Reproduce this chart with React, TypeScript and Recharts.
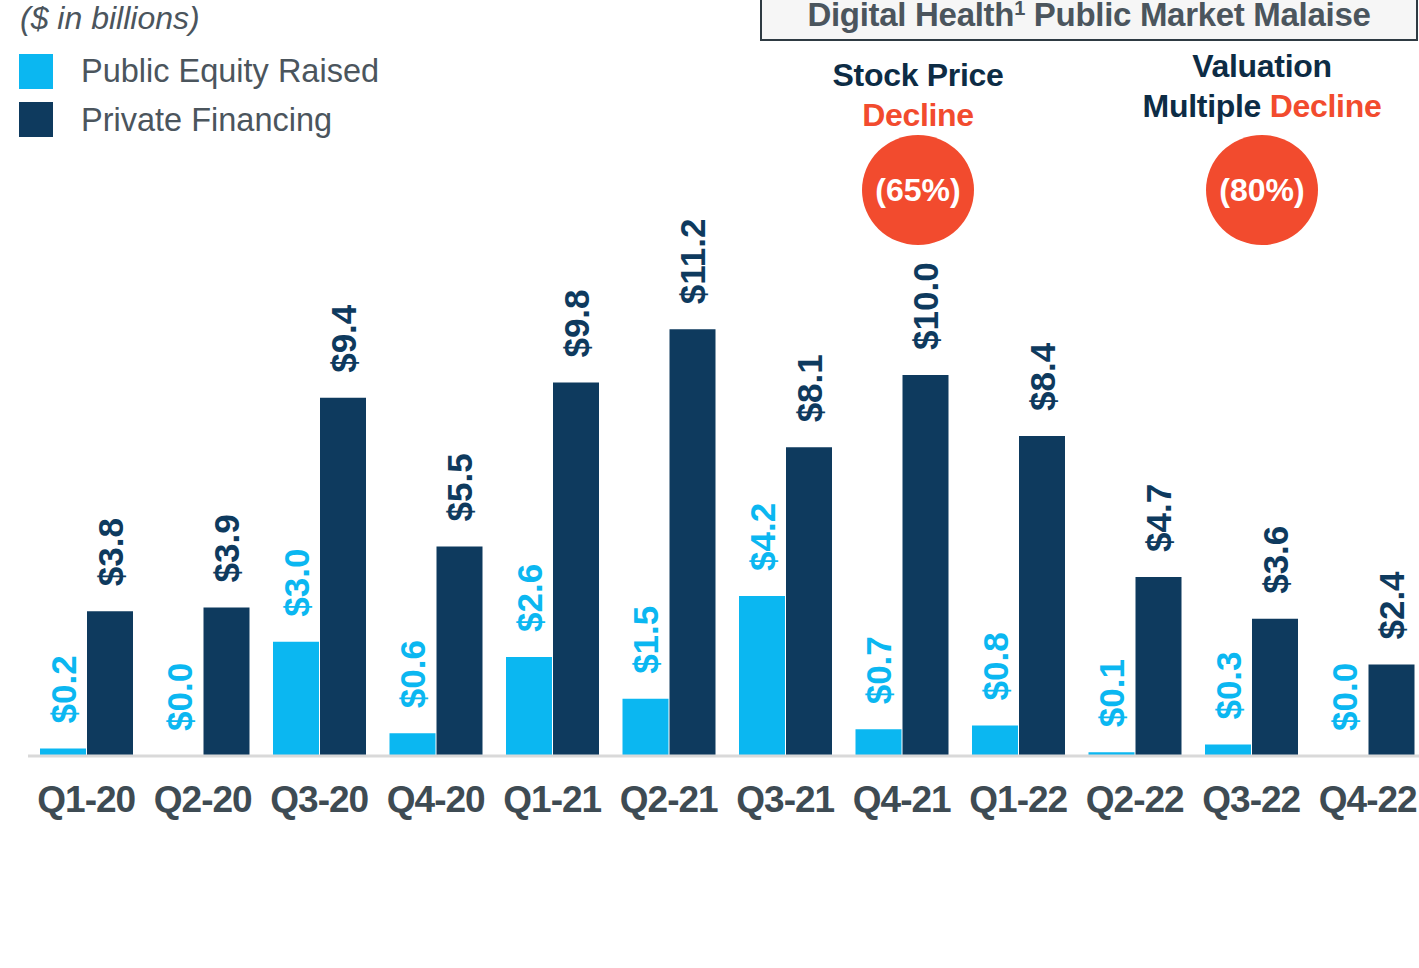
import { Bar, BarChart, LabelList, XAxis, YAxis } from "recharts";

const quarters = [
  "Q1-20", "Q2-20", "Q3-20", "Q4-20", "Q1-21", "Q2-21",
  "Q3-21", "Q4-21", "Q1-22", "Q2-22", "Q3-22", "Q4-22",
];
const publicEquity = [0.2, 0.0, 3.0, 0.6, 2.6, 1.5, 4.2, 0.7, 0.8, 0.1, 0.3, 0.0];
const privateFinancing = [3.8, 3.9, 9.4, 5.5, 9.8, 11.2, 8.1, 10.0, 8.4, 4.7, 3.6, 2.4];

const LIGHT = "#0BB7F1";
const NAVY = "#0E3A5E";
const AXIS_TEXT = "#3E4B53";
const GREY_TEXT = "#4B555D";
const RED = "#F24B2E";
const FONT = "'Liberation Sans', Arial, sans-serif";

const data = quarters.map((q, i) => ({
  quarter: q,
  publicEquity: publicEquity[i],
  privateFinancing: privateFinancing[i],
}));

function makeLabel(color: string) {
  return (props: any) => {
    const { x, y, width, value } = props;
    const cx = Number(x) + Number(width) / 2;
    const ty = Number(y) - 25;
    return (
      <text
        x={cx}
        y={ty}
        dy="0.36em"
        transform={`rotate(-90 ${cx} ${ty})`}
        textAnchor="start"
        fill={color}
        fontFamily={FONT}
        fontWeight={700}
        fontSize={35}
      >
        {`$${Number(value).toFixed(1)}`}
      </text>
    );
  };
}

function QuarterTick(props: any) {
  const { x, y, payload } = props;
  return (
    <text
      x={x}
      y={y}
      dy={56}
      textAnchor="middle"
      fill={AXIS_TEXT}
      fontFamily={FONT}
      fontWeight={700}
      fontSize={37}
      letterSpacing={-1}
    >
      {payload.value}
    </text>
  );
}

const abs = (style: React.CSSProperties): React.CSSProperties => ({
  position: "absolute",
  fontFamily: FONT,
  ...style,
});

function Bubble({ cx, label }: { cx: number; label: string }) {
  return (
    <div
      style={abs({
        left: cx - 56,
        top: 135,
        width: 112,
        height: 110,
        borderRadius: "50%",
        background: RED,
        color: "#fff",
        fontWeight: 700,
        fontSize: 32,
        display: "flex",
        alignItems: "center",
        justifyContent: "center",
      })}
    >
      {label}
    </div>
  );
}

export default function App() {
  return (
    <div
      style={{
        position: "absolute",
        left: 0,
        top: 0,
        width: 1419,
        height: 968,
        overflow: "hidden",
        background: "#fff",
      }}
    >
      <BarChart
        width={1430}
        height={968}
        data={data}
        margin={{ top: 32, right: 4, left: 28, bottom: 152 }}
        barSize={46}
        barGap={1}
      >
        <XAxis
          dataKey="quarter"
          axisLine={{ stroke: "#D9D9D9", strokeWidth: 3 }}
          tickLine={false}
          tickSize={0}
          tickMargin={0}
          height={60}
          interval={0}
          tick={<QuarterTick />}
        />
        <YAxis hide domain={[0, 19]} />
        <Bar dataKey="publicEquity" fill={LIGHT} minPointSize={0.01} isAnimationActive={false}>
          <LabelList dataKey="publicEquity" content={makeLabel(LIGHT)} />
        </Bar>
        <Bar dataKey="privateFinancing" fill={NAVY} isAnimationActive={false}>
          <LabelList dataKey="privateFinancing" content={makeLabel(NAVY)} />
        </Bar>
      </BarChart>

      <div style={abs({ left: 20, top: 1, fontSize: 32, fontStyle: "italic", color: GREY_TEXT, lineHeight: "34px" })}>
        ($ in billions)
      </div>
      <div style={abs({ left: 19, top: 54, width: 34, height: 35, background: LIGHT })} />
      <div style={abs({ left: 19, top: 102, width: 34, height: 35, background: NAVY })} />
      <div style={abs({ left: 81, top: 53, fontSize: 32.5, color: GREY_TEXT, lineHeight: "36px" })}>
        Public Equity Raised
      </div>
      <div style={abs({ left: 81, top: 102, fontSize: 32.5, color: GREY_TEXT, lineHeight: "36px" })}>
        Private Financing
      </div>

      <div
        style={abs({
          left: 760,
          top: -12,
          width: 658,
          height: 53,
          border: "2.5px solid #2E3A42",
          background: "#F6F6F6",
          color: GREY_TEXT,
          fontWeight: 700,
          fontSize: 33,
          letterSpacing: -0.3,
          display: "flex",
          alignItems: "flex-end",
          justifyContent: "center",
          lineHeight: "40px",
          paddingBottom: 4,
          boxSizing: "border-box",
        })}
      >
        <span>
          Digital Health<sup style={{ fontSize: 20, verticalAlign: "11px" }}>1</sup> Public Market Malaise
        </span>
      </div>

      <div style={abs({ left: 818, top: 55, width: 200, textAlign: "center", fontWeight: 700, fontSize: 32, lineHeight: "40px", color: "#0D2C45", letterSpacing: -0.3 })}>
        Stock Price
        <br />
        <span style={{ color: RED }}>Decline</span>
      </div>
      <div style={abs({ left: 1112, top: 46, width: 300, textAlign: "center", fontWeight: 700, fontSize: 32, lineHeight: "40px", color: "#0D2C45", letterSpacing: -0.3 })}>
        Valuation
        <br />
        Multiple <span style={{ color: RED }}>Decline</span>
      </div>
      <Bubble cx={918} label="(65%)" />
      <Bubble cx={1262} label="(80%)" />
    </div>
  );
}
